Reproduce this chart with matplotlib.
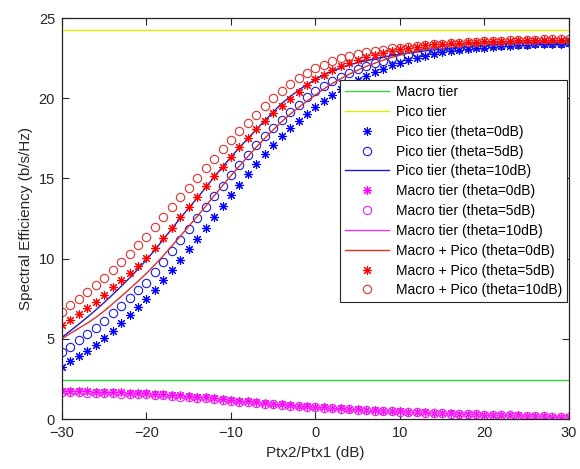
import numpy as np
import matplotlib
matplotlib.use("Agg")
import matplotlib.pyplot as plt

plt.rcParams['font.family'] = ['Liberation Sans', 'DejaVu Sans']

# x axis: Ptx2/Ptx1 in dB (1 dB steps)
x_db = list(range(-30, 31))

macro_tier_level = 2.43
pico_tier_level = 24.25

pico_theta0 = [3.26, 3.60, 3.93, 4.26, 4.62, 5.04, 5.50, 5.98, 6.47, 6.97, 7.48,
               8.05, 8.65, 9.28, 9.93, 10.58, 11.24, 11.92, 12.62, 13.30, 13.97,
               14.62, 15.27, 15.90, 16.50, 17.07, 17.62, 18.12, 18.58, 19.02, 19.45,
               19.85, 20.22, 20.55, 20.86, 21.14, 21.40, 21.63, 21.85, 22.04, 22.20,
               22.36, 22.52, 22.65, 22.76, 22.85, 22.93, 23.00, 23.06, 23.11, 23.16,
               23.20, 23.24, 23.27, 23.30, 23.33, 23.35, 23.37, 23.39, 23.41, 23.43]

pico_theta5 = [4.16, 4.52, 4.91, 5.27, 5.68, 6.13, 6.60, 7.06, 7.54, 8.02, 8.50,
               9.15, 9.80, 10.48, 11.17, 11.86, 12.55, 13.22, 13.90, 14.55, 15.20,
               15.85, 16.47, 17.06, 17.62, 18.15, 18.65, 19.15, 19.60, 20.05, 20.45,
               20.78, 21.08, 21.35, 21.60, 21.82, 22.02, 22.19, 22.34, 22.48, 22.60,
               22.71, 22.80, 22.89, 22.97, 23.04, 23.10, 23.15, 23.20, 23.24, 23.28,
               23.31, 23.34, 23.37, 23.39, 23.41, 23.43, 23.45, 23.46, 23.47, 23.48]

pico_theta10 = [5.09, 5.50, 5.92, 6.35, 6.80, 7.27, 7.76, 8.27, 8.80, 9.35, 9.92,
                10.55, 11.20, 11.86, 12.52, 13.15, 13.78, 14.42, 15.08, 15.72, 16.33,
                16.92, 17.49, 18.05, 18.61, 19.15, 19.67, 20.10, 20.50, 20.85, 21.18,
                21.45, 21.70, 21.90, 22.08, 22.22, 22.34, 22.45, 22.56, 22.65, 22.73,
                22.81, 22.88, 22.95, 23.01, 23.07, 23.12, 23.17, 23.21, 23.25, 23.29,
                23.33, 23.36, 23.39, 23.42, 23.45, 23.48, 23.51, 23.53, 23.55, 23.57]

macro_theta0 = [1.75, 1.74, 1.73, 1.72, 1.71, 1.70, 1.68, 1.66, 1.64, 1.62, 1.60,
                1.57, 1.54, 1.51, 1.47, 1.43, 1.39, 1.35, 1.30, 1.25, 1.20,
                1.15, 1.10, 1.05, 1.00, 0.96, 0.92, 0.88, 0.84, 0.80, 0.76,
                0.73, 0.70, 0.67, 0.64, 0.61, 0.58, 0.55, 0.52, 0.50, 0.48,
                0.46, 0.44, 0.42, 0.40, 0.38, 0.36, 0.34, 0.32, 0.30, 0.28,
                0.27, 0.25, 0.23, 0.22, 0.20, 0.18, 0.17, 0.15, 0.14, 0.13]

macro_theta5 = [1.68, 1.67, 1.66, 1.65, 1.64, 1.63, 1.61, 1.59, 1.57, 1.55, 1.53,
                1.50, 1.47, 1.44, 1.40, 1.36, 1.32, 1.28, 1.23, 1.18, 1.14,
                1.09, 1.04, 0.99, 0.95, 0.91, 0.87, 0.83, 0.79, 0.76, 0.72,
                0.69, 0.66, 0.63, 0.60, 0.58, 0.55, 0.52, 0.50, 0.48, 0.46,
                0.44, 0.42, 0.40, 0.38, 0.36, 0.34, 0.32, 0.30, 0.29, 0.27,
                0.25, 0.24, 0.22, 0.21, 0.19, 0.18, 0.16, 0.15, 0.13, 0.12]

macro_theta10 = [1.60, 1.59, 1.58, 1.57, 1.56, 1.55, 1.53, 1.51, 1.49, 1.47, 1.45,
                 1.42, 1.39, 1.36, 1.32, 1.28, 1.24, 1.20, 1.16, 1.11, 1.07,
                 1.02, 0.98, 0.93, 0.89, 0.85, 0.81, 0.78, 0.74, 0.71, 0.68,
                 0.65, 0.62, 0.59, 0.57, 0.54, 0.52, 0.49, 0.47, 0.45, 0.43,
                 0.41, 0.39, 0.37, 0.35, 0.34, 0.32, 0.30, 0.29, 0.27, 0.26,
                 0.24, 0.23, 0.21, 0.20, 0.18, 0.17, 0.16, 0.14, 0.13, 0.12]

mp_theta0 = [5.01, 5.34, 5.66, 5.98, 6.33, 6.74, 7.18, 7.64, 8.11, 8.59, 9.08,
             9.62, 10.19, 10.79, 11.40, 12.01, 12.63, 13.27, 13.92, 14.55, 15.17,
             15.77, 16.37, 16.95, 17.50, 18.03, 18.54, 19.00, 19.42, 19.82, 20.21,
             20.58, 20.92, 21.22, 21.50, 21.75, 21.98, 22.18, 22.37, 22.54, 22.68,
             22.82, 22.96, 23.07, 23.16, 23.23, 23.29, 23.34, 23.38, 23.41, 23.44,
             23.47, 23.49, 23.50, 23.52, 23.53, 23.53, 23.54, 23.54, 23.55, 23.56]

mp_theta5 = [5.84, 6.19, 6.57, 6.92, 7.32, 7.76, 8.21, 8.65, 9.11, 9.57, 10.03,
             10.65, 11.27, 11.92, 12.57, 13.22, 13.87, 14.50, 15.13, 15.73, 16.34,
             16.94, 17.51, 18.05, 18.57, 19.06, 19.52, 19.98, 20.39, 20.81, 21.17,
             21.47, 21.74, 21.98, 22.20, 22.40, 22.57, 22.71, 22.84, 22.96, 23.06,
             23.15, 23.22, 23.29, 23.35, 23.40, 23.44, 23.47, 23.50, 23.53, 23.55,
             23.56, 23.58, 23.59, 23.60, 23.60, 23.61, 23.61, 23.61, 23.60, 23.60]

mp_theta10 = [6.69, 7.09, 7.50, 7.92, 8.36, 8.82, 9.29, 9.78, 10.29, 10.82, 11.37,
              11.97, 12.59, 13.22, 13.84, 14.43, 15.02, 15.62, 16.24, 16.83, 17.40,
              17.94, 18.47, 18.98, 19.50, 20.00, 20.48, 20.88, 21.24, 21.56, 21.86,
              22.10, 22.32, 22.49, 22.65, 22.76, 22.86, 22.94, 23.03, 23.10, 23.16,
              23.22, 23.27, 23.32, 23.36, 23.41, 23.44, 23.47, 23.50, 23.52, 23.55,
              23.57, 23.59, 23.60, 23.62, 23.63, 23.65, 23.67, 23.67, 23.68, 23.69]

x_ticks = [-30, -20, -10, 0, 10, 20, 30]
y_ticks = [0, 5, 10, 15, 20, 25]

fig = plt.figure(figsize=(5.8, 4.69), dpi=100)
ax = fig.add_axes([0.1069, 0.1066, 0.981 - 0.1069, 0.9616 - 0.1066])

ms_o = 6.0
ms_s = 6.5
lw = 0.8
ast = (8, 2, 0)

ax.axhline(macro_tier_level, color='#33d633', lw=1.0, label='Macro tier')
ax.axhline(pico_tier_level, color='#e8e800', lw=1.0, label='Pico tier')
ax.plot(x_db, pico_theta0, ls='none', marker=ast, ms=ms_s, mew=lw, color='#0000ff',
        label='Pico tier (theta=0dB)')
ax.plot(x_db, pico_theta5, ls='none', marker='o', ms=ms_o, mew=lw, mfc='none', color='#1a1ae0',
        label='Pico tier (theta=5dB)')
ax.plot(x_db, pico_theta10, ls='-', lw=1.0, color='#1a1ad0', label='Pico tier (theta=10dB)')
ax.plot(x_db, macro_theta0, ls='none', marker=ast, ms=ms_s, mew=lw, color='#ff00ff',
        label='Macro tier (theta=0dB)')
ax.plot(x_db, macro_theta5, ls='none', marker='o', ms=ms_o, mew=lw, mfc='none', color='#f020f0',
        label='Macro tier (theta=5dB)')
ax.plot(x_db, macro_theta10, ls='-', lw=1.0, color='#ee33ee', label='Macro tier (theta=10dB)')
ax.plot(x_db, mp_theta0, ls='-', lw=1.0, color='#d83030', label='Macro + Pico (theta=0dB)')
ax.plot(x_db, mp_theta5, ls='none', marker=ast, ms=ms_s, mew=lw, color='#ff0000',
        label='Macro + Pico (theta=5dB)')
ax.plot(x_db, mp_theta10, ls='none', marker='o', ms=ms_o, mew=lw, mfc='none', color='#e03030',
        label='Macro + Pico (theta=10dB)')

ax.set_xlim(-30, 30)
ax.set_ylim(0, 25)
ax.set_xticks(x_ticks)
ax.set_yticks(y_ticks)
ax.tick_params(direction='in', top=True, right=True, length=5, width=0.8,
               labelsize=10.5, colors='#262626', pad=5)
for s in ax.spines.values():
    s.set_color('#262626')
    s.set_linewidth(0.9)

ax.set_xlabel('Ptx2/Ptx1 (dB)', fontsize=11, color='#262626')
ax.set_ylabel('Spectral Efficiency (b/s/Hz)', fontsize=11, color='#262626')

leg = ax.legend(loc='upper left', bbox_to_anchor=(0.548, 0.845), borderaxespad=0,
                fontsize=10, frameon=True, fancybox=False, framealpha=1,
                edgecolor='#262626', handlelength=3.2, handletextpad=0.5,
                labelspacing=0.42, borderpad=0.35, numpoints=1)
leg.get_frame().set_linewidth(0.8)

fig.savefig('out.png', dpi=100)
